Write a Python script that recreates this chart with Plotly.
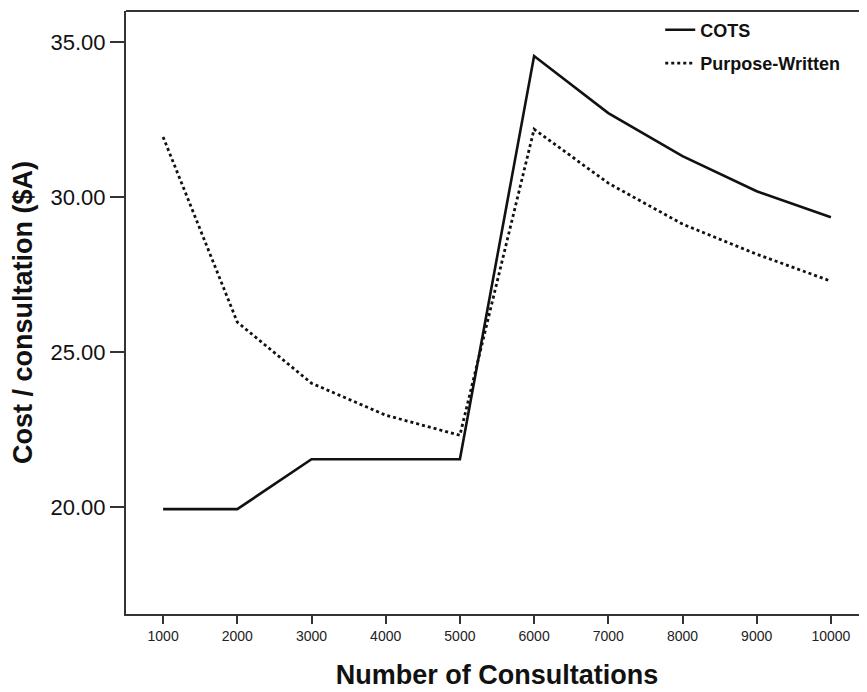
import plotly.graph_objects as go

consultations = [1000, 2000, 3000, 4000, 5000, 6000, 7000, 8000, 9000, 10000]
cots = [19.94, 19.94, 21.55, 21.55, 21.55, 34.55, 32.71, 31.32, 30.19, 29.35]
purpose_written = [31.94, 25.97, 24.0, 22.97, 22.32, 32.19, 30.45, 29.13, 28.16, 27.29]
x_tick_labels = [str(v) for v in consultations]
y_ticks = [20, 25, 30, 35]
y_tick_labels = ["20.00", "25.00", "30.00", "35.00"]

fig = go.Figure()
fig.add_trace(go.Scatter(x=consultations, y=cots, mode="lines", name="<b>COTS</b>", legendgroup="a",
                         line=dict(color="#111111", width=2.6)))
fig.add_trace(go.Scatter(x=consultations, y=purpose_written, mode="lines", name="<b>Purpose-Written</b>",
                         legendgroup="b",
                         line=dict(color="#111111", width=2.8, dash="dot")))

fig.update_layout(
    width=867, height=692,
    margin=dict(l=118, r=7, t=3, b=86),
    paper_bgcolor="white", plot_bgcolor="white",
    showlegend=True,
    legend=dict(x=0.72, y=0.999, xanchor="left", yanchor="top",
                bgcolor="rgba(0,0,0,0)", tracegroupgap=7,
                font=dict(family="Liberation Sans, Arial", size=18, color="#111111")),
    xaxis=dict(range=[500, 10500], tickmode="array", tickvals=consultations, ticktext=x_tick_labels,
               showgrid=False, zeroline=False, showline=True, linecolor="#333333", linewidth=2,
               mirror=False, ticks="outside", ticklen=8, tickwidth=1.5, tickcolor="#333333",
               automargin=False,
               tickfont=dict(family="Liberation Sans, Arial", size=14, color="#222222"),
               title=dict(text="<b>Number of Consultations</b>", standoff=22,
                          font=dict(family="Liberation Sans, Arial", size=27, color="#111111"))),
    yaxis=dict(range=[16.56, 36.0], tickmode="array", tickvals=y_ticks, ticktext=y_tick_labels,
               showgrid=False, zeroline=False, showline=True, linecolor="#333333", linewidth=2,
               ticks="outside", ticklen=14, tickwidth=1.5, tickcolor="#333333",
               automargin=False,
               tickfont=dict(family="Liberation Sans, Arial", size=22, color="#111111"),
               title=dict(text="<b>Cost / consultation ($A)</b>", standoff=10,
                          font=dict(family="Liberation Sans, Arial", size=27, color="#111111"))),
)
# top border line of the plot frame
fig.add_shape(type="line", xref="paper", yref="paper", x0=0, x1=1, y0=1, y1=1,
              line=dict(color="#333333", width=2))

fig.write_html("out.html")
